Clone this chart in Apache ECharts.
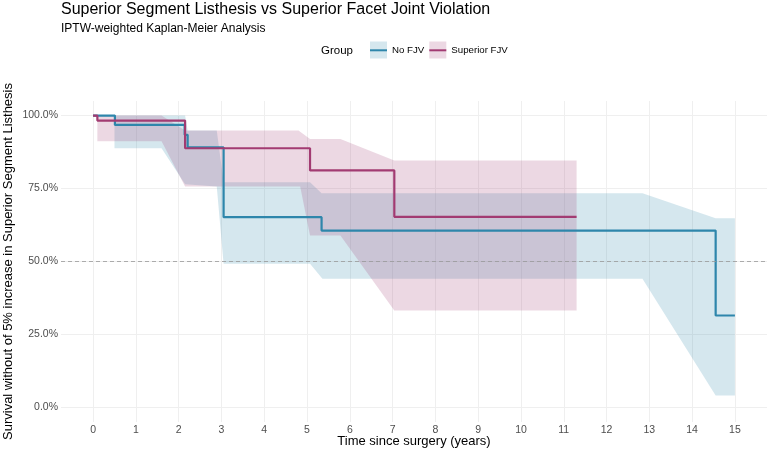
<!DOCTYPE html>
<html>
<head>
<meta charset="utf-8">
<script src="https://cdn.jsdelivr.net/npm/echarts@6/dist/echarts.min.js"></script>
<style>
  html, body { margin: 0; padding: 0; background: #fff; }
  #chart { width: 770px; height: 457px; }
</style>
</head>
<body>
<div id="chart"></div>
<script>
// KM step curves (time in years, weighted survival)
const noFjvTime = [0, 0.51, 2.14, 2.21, 3.05, 5.34, 14.55, 15.0];
const noFjvSurv = [1, 0.968, 0.934, 0.891, 0.652, 0.606, 0.315, 0.315];
const supFjvTime = [0, 0.1, 2.15, 5.07, 7.04, 11.3];
const supFjvSurv = [1, 0.983, 0.888, 0.812, 0.653, 0.653];

// confidence ribbons: upper and lower edges
const noFjvUpperT = [0, 2.15, 2.21, 2.89, 3.05, 5.07, 5.34, 12.84, 14.55, 15.0];
const noFjvUpper = [1, 1, 0.949, 0.949, 0.772, 0.772, 0.734, 0.734, 0.648, 0.648];
const noFjvLowerT = [0, 0.5, 0.5, 1.6, 2.15, 2.89, 3.05, 5.07, 5.36, 12.84, 14.55, 15.0];
const noFjvLower = [1, 1, 0.888, 0.888, 0.765, 0.757, 0.492, 0.492, 0.441, 0.441, 0.041, 0.041];

const supFjvUpperT = [0.1, 1.6, 2.15, 4.80, 5.07, 5.78, 7.04, 11.3];
const supFjvUpper = [1, 1, 0.949, 0.949, 0.92, 0.92, 0.846, 0.846];
const supFjvLowerT = [0.1, 0.1, 1.6, 2.15, 4.84, 5.07, 5.78, 7.04, 11.3];
const supFjvLower = [1, 0.912, 0.912, 0.757, 0.757, 0.589, 0.589, 0.332, 0.332];

const xTicks = [0, 1, 2, 3, 4, 5, 6, 7, 8, 9, 10, 11, 12, 13, 14, 15];
const yTicks = [0, 0.25, 0.5, 0.75, 1];
const groups = ['No FJV', 'Superior FJV'];

const blue = '#2E86AB';
const plum = '#A23B72';

const chart = echarts.init(document.getElementById('chart'), null, { renderer: 'canvas' });

function zip(a, b) {
  return a.map((v, i) => [v, b[i]]);
}

// ribbon polygon: upper edge forward, lower edge backward
function ribbon(name, upT, up, loT, lo, color) {
  const pts = zip(upT, up).concat(zip(loT, lo).reverse());
  return {
    name: name,
    type: 'custom',
    silent: true,
    z: 1,
    data: pts,
    encode: { x: 0, y: 1 },
    renderItem: function (params, api) {
      if (params.dataIndex !== 0) return;
      return {
        type: 'polygon',
        shape: { points: pts.map(p => api.coord(p)) },
        style: { fill: color }
      };
    }
  };
}

const option = {
  animation: false,
  backgroundColor: '#fff',
  textStyle: { fontFamily: 'Liberation Sans, Arial, sans-serif' },
  title: [
    {
      text: 'Superior Segment Listhesis vs Superior Facet Joint Violation',
      left: 61, top: 2, padding: 0,
      textStyle: { fontSize: 16, fontWeight: 'normal', color: '#000' }
    },
    {
      text: 'IPTW-weighted Kaplan-Meier Analysis',
      left: 61, top: 23, padding: 0,
      textStyle: { fontSize: 12, fontWeight: 'normal', color: '#000' }
    },
    {
      text: 'Group',
      left: 321, top: 45, padding: 0,
      textStyle: { fontSize: 11.5, fontWeight: 'normal', color: '#000' }
    }
  ],
  legend: [
    {
      left: 370, top: 41.5, padding: 0,
      itemWidth: 17, itemHeight: 17, itemGap: 5,
      selectedMode: false,
      textStyle: { fontSize: 9.7, color: '#000' },
      data: [
        { name: groups[0], icon: 'rect', itemStyle: { color: 'rgba(46,134,171,0.2)', borderWidth: 0 } },
        { name: groups[1], icon: 'rect', itemStyle: { color: 'rgba(162,59,114,0.2)', borderWidth: 0 } }
      ]
    },
    {
      left: 370, top: 45.3, padding: 0,
      itemWidth: 17, itemHeight: 2, itemGap: 5,
      selectedMode: false,
      textStyle: { fontSize: 9.7, color: 'rgba(0,0,0,0)' },
      data: [
        { name: groups[0], icon: 'rect', itemStyle: { color: blue, borderWidth: 0 } },
        { name: groups[1], icon: 'rect', itemStyle: { color: plum, borderWidth: 0 } }
      ]
    }
  ],
  grid: { left: 61, right: 3, top: 101, bottom: 35, outerBoundsMode: 'none' },
  xAxis: {
    type: 'value',
    min: -0.75, max: 15.75,
    name: 'Time since surgery (years)',
    nameLocation: 'middle',
    nameGap: 13,
    nameMoveOverlap: false,
    nameTextStyle: { fontSize: 13, color: '#000' },
    axisLine: { show: false },
    axisTick: { show: false, customValues: xTicks },
    axisLabel: { customValues: xTicks, fontSize: 10.5, color: '#4D4D4D', margin: 3 },
    splitLine: { show: true, lineStyle: { color: '#EFEFEF', width: 1 } }
  },
  yAxis: {
    type: 'value',
    min: -0.05, max: 1.05,
    name: 'Survival without of 5% increase in Superior Segment Listhesis',
    nameLocation: 'middle',
    nameGap: 46,
    nameMoveOverlap: false,
    nameTextStyle: { fontSize: 13, color: '#000' },
    axisLine: { show: false },
    axisTick: { show: false, customValues: yTicks },
    axisLabel: {
      customValues: yTicks, fontSize: 10.5, color: '#4D4D4D', margin: 3,
      formatter: v => (v * 100).toFixed(1) + '%'
    },
    splitLine: { show: true, lineStyle: { color: '#EFEFEF', width: 1 } }
  },
  series: [
    ribbon('No FJV CI', noFjvUpperT, noFjvUpper, noFjvLowerT, noFjvLower, 'rgba(46,134,171,0.2)'),
    ribbon('Superior FJV CI', supFjvUpperT, supFjvUpper, supFjvLowerT, supFjvLower, 'rgba(162,59,114,0.2)'),
    {
      name: groups[0],
      type: 'line',
      step: 'end',
      showSymbol: false,
      z: 3,
      color: blue,
      lineStyle: { color: blue, width: 2.2 },
      data: zip(noFjvTime, noFjvSurv),
      markLine: {
        silent: true,
        symbol: 'none',
        label: { show: false },
        lineStyle: { color: '#999', type: [4, 3], width: 0.8 },
        data: [{ yAxis: 0.5 }]
      }
    },
    {
      name: groups[1],
      type: 'line',
      step: 'end',
      showSymbol: false,
      z: 4,
      color: plum,
      lineStyle: { color: plum, width: 2.2 },
      data: zip(supFjvTime, supFjvSurv)
    }
  ]
};

chart.setOption(option);
</script>
</body>
</html>
